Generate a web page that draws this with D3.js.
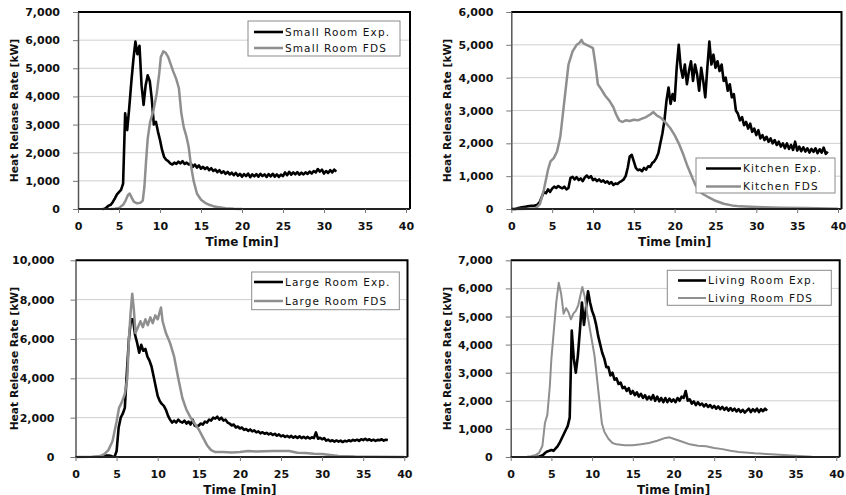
<!DOCTYPE html>
<html>
<head>
<meta charset="utf-8">
<script src="https://cdn.jsdelivr.net/npm/d3@7/dist/d3.min.js"></script>
<style>
  body { margin: 0; background: #fff; }
  svg { display: block; }
  text { font-family: "DejaVu Sans", Verdana, sans-serif; }
</style>
</head>
<body>
<svg id="chart" width="846" height="495"></svg>
<script>
// ---- Data: heat release rate [kW] vs time [min] ----
const timeTicks = [0, 5, 10, 15, 20, 25, 30, 35, 40];

// Experimental records are logged every 0.25 min (one row = one minute)
const EXP_STEP = 0.25;

const smallExpStart = 3.0;
const smallExp = [
  0, 10, 60, 120,            // 3
  150, 250, 380, 520,        // 4
  600, 680, 900, 3400,       // 5
  2800, 3600, 4500, 5300,    // 6
  5950, 5500, 5800, 4400,    // 7
  3700, 4400, 4750, 4550,    // 8
  3900, 3000, 3100, 2750,    // 9
  2450, 2100, 1850, 1750,    // 10
  1700, 1620, 1580, 1650,    // 11
  1600, 1680, 1620, 1700,    // 12
  1600, 1650, 1580, 1620,    // 13
  1500, 1580, 1470, 1550,    // 14
  1430, 1500, 1420, 1480,    // 15
  1380, 1450, 1350, 1400,    // 16
  1310, 1380, 1280, 1340,    // 17
  1250, 1320, 1230, 1290,    // 18
  1200, 1280, 1180, 1250,    // 19
  1150, 1240, 1170, 1260,    // 20
  1130, 1230, 1160, 1240,    // 21
  1150, 1250, 1170, 1230,    // 22
  1140, 1240, 1160, 1250,    // 23
  1150, 1230, 1140, 1220,    // 24
  1170, 1300, 1200, 1320,    // 25
  1220, 1300, 1230, 1310,    // 26
  1220, 1290, 1230, 1300,    // 27
  1250, 1330, 1260, 1350,    // 28
  1300, 1420, 1330, 1400,    // 29
  1260, 1350, 1280, 1380,    // 30
  1300, 1400, 1330           // 31
];
const smallFds = [
  [4.0, 0], [4.5, 10], [5.0, 40], [5.5, 150], [5.8, 300], [6.1, 500], [6.3, 550],
  [6.5, 430], [6.8, 260], [7.2, 200], [7.6, 220], [7.9, 300], [8.1, 800], [8.3, 1700],
  [8.5, 2500], [8.8, 3100], [9.2, 3500], [9.6, 4100], [9.9, 4800], [10.1, 5400],
  [10.4, 5600], [10.7, 5550], [11.0, 5400], [11.3, 5150], [11.6, 4900], [12.0, 4600],
  [12.3, 4300], [12.6, 3400], [12.9, 2900], [13.2, 2600], [13.5, 2200], [13.8, 1500],
  [14.1, 1000], [14.5, 550], [15.0, 330], [15.5, 220], [16.0, 150], [16.5, 100],
  [17.0, 70], [18.0, 30], [19.0, 10], [20.0, 0]
];

const kitchenExpStart = 0.0;
const kitchenExp = [
  0, 0, 0, 20,               // 0
  40, 50, 60, 70,            // 1
  80, 90, 100, 100,          // 2
  110, 140, 220, 380,        // 3
  520, 480, 600, 520,        // 4
  620, 680, 640, 700,        // 5
  660, 630, 680, 600,        // 6
  640, 950, 980, 900,        // 7
  970, 880, 930, 850,        // 8
  960, 1020, 950, 1000,      // 9
  880, 920, 850, 900,        // 10
  830, 870, 800, 840,        // 11
  770, 820, 730, 780,        // 12
  760, 820, 850, 900,        // 13
  1000, 1250, 1600, 1650,    // 14
  1450, 1250, 1180, 1200,    // 15
  1150, 1250, 1200, 1300,    // 16
  1280, 1400, 1450, 1550,    // 17
  1700, 2000, 2300, 2700,    // 18
  3300, 3700, 3200, 3500,    // 19
  3300, 4300, 5000, 4300,    // 20
  4000, 4400, 3800, 4200,    // 21
  4500, 3900, 4400, 4100,    // 22
  3600, 4300, 3900, 3400,    // 23
  4300, 5100, 4400, 4700,    // 24
  4300, 4500, 4200, 4400,    // 25
  3900, 4000, 3600, 3800,    // 26
  3400, 3500, 3000, 2900,    // 27
  2700, 2800, 2550, 2650,    // 28
  2450, 2600, 2350, 2450,    // 29
  2250, 2400, 2150, 2250,    // 30
  2100, 2200, 2050, 2150,    // 31
  2000, 2100, 1950, 2050,    // 32
  1900, 2000, 1850, 2000,    // 33
  1830, 1950, 1800, 2050,    // 34
  1780, 1900, 1760, 1880,    // 35
  1750, 1850, 1720, 1830,    // 36
  1740, 1850, 1700, 1820,    // 37
  1720, 1870, 1680, 1750     // 38
];
const kitchenFds = [
  [0, 0], [1, 0], [2, 5], [3, 20], [3.5, 150], [4, 600], [4.5, 1200], [4.8, 1450],
  [5.2, 1550], [5.6, 1750], [6, 2200], [6.5, 3300], [7, 4400], [7.5, 4800], [8, 5000],
  [8.3, 5050], [8.6, 5150], [8.8, 5050], [9.2, 5000], [9.6, 4950], [10, 4900],
  [10.3, 4400], [10.6, 3800], [11, 3650], [11.5, 3450], [12, 3300], [12.5, 3100],
  [12.8, 2900], [13.2, 2700], [13.6, 2650], [14, 2700], [14.5, 2680], [15, 2720],
  [15.5, 2700], [16, 2750], [16.5, 2800], [17, 2880], [17.4, 2950], [17.8, 2850],
  [18.3, 2780], [19, 2600], [19.5, 2450], [20, 2250], [20.5, 2000], [21, 1700],
  [21.5, 1350], [22, 1050], [22.5, 750], [23, 550], [23.5, 450], [24, 380], [25, 250],
  [26, 160], [27, 110], [28, 80], [30, 60], [33, 40], [36, 30], [40, 5]
];

const largeExpStart = 3.0;
const largeExp = [
  0, 30, 60, 70,             // 3
  80, 60, 30, 10,            // 4
  300, 1500, 2000, 2200,     // 5
  2500, 4300, 6000, 7000,    // 6
  7000, 6200, 5800, 5300,    // 7
  5700, 5400, 5500, 5100,    // 8
  4900, 4600, 4100, 3600,    // 9
  3100, 2850, 2700, 2600,    // 10
  2400, 2100, 1900, 1750,    // 11
  1850, 1750, 1900, 1800,    // 12
  1750, 1850, 1700, 1800,    // 13
  1650, 1900, 1600, 1550,    // 14
  1600, 1700, 1650, 1800,    // 15
  1750, 1900, 1850, 2000,    // 16
  1950, 2050, 1900, 2000,    // 17
  1850, 1900, 1750, 1700,    // 18
  1600, 1650, 1500, 1550,    // 19
  1450, 1500, 1380, 1420,    // 20
  1330, 1400, 1300, 1350,    // 21
  1250, 1300, 1200, 1260,    // 22
  1180, 1230, 1150, 1200,    // 23
  1120, 1180, 1080, 1150,    // 24
  1050, 1100, 1020, 1080,    // 25
  1000, 1070, 980, 1050,     // 26
  970, 1050, 960, 1030,      // 27
  950, 1020, 940, 1000,      // 28
  960, 1250, 930, 980,       // 29
  900, 960, 830, 880,        // 30
  800, 850, 780, 840,        // 31
  780, 830, 760, 820,        // 32
  790, 850, 800, 870,        // 33
  830, 880, 820, 900,        // 34
  860, 930, 850, 900,        // 35
  830, 880, 820, 870,        // 36
  850, 900, 830, 880,        // 37
  860                        // 38
];
const largeFds = [
  [0, 0], [2, 10], [3, 50], [3.5, 150], [4, 350], [4.5, 800], [5, 1800], [5.3, 2500],
  [5.6, 2750], [6, 3200], [6.3, 4000], [6.5, 6000], [6.7, 7300], [6.9, 8300], [7.1, 7500],
  [7.3, 6300], [7.6, 6600], [7.9, 6900], [8.2, 6600], [8.5, 7000], [8.8, 6700],
  [9.1, 7100], [9.4, 6800], [9.7, 7200], [10, 7000], [10.2, 7300], [10.4, 7600],
  [10.6, 6900], [11, 6300], [11.5, 5800], [12, 5100], [12.5, 4000], [13, 3000],
  [13.5, 2400], [14, 2000], [14.5, 1700], [15, 1400], [15.5, 1000], [16, 600],
  [16.5, 350], [17, 250], [18, 250], [19, 230], [20, 250], [21, 300], [22, 280],
  [24, 300], [26, 300], [27, 220], [28, 200], [29, 170], [30, 150], [31, 100],
  [32, 50], [34, 20], [36, 10], [40, 0]
];

const livingExpStart = 3.0;
const livingExp = [
  0, 10, 20, 40,             // 3
  80, 150, 200, 220,         // 4
  250, 220, 300, 380,        // 5
  500, 650, 800, 950,        // 6
  1100, 1400, 4500, 3500,    // 7
  3000, 3600, 4500, 5500,    // 8
  4700, 5300, 5900, 5500,    // 9
  5200, 5000, 4700, 4300,    // 10
  4000, 3700, 3500, 3200,    // 11
  3200, 2900, 3000, 2750,    // 12
  2800, 2600, 2650, 2450,    // 13
  2500, 2350, 2450, 2250,    // 14
  2350, 2200, 2300, 2150,    // 15
  2250, 2100, 2200, 2050,    // 16
  2150, 2050, 2200, 2000,    // 17
  2150, 1980, 2100, 1950,    // 18
  2100, 1950, 2080, 1970,    // 19
  2050, 1950, 2100, 2000,    // 20
  2150, 2100, 2350, 2000,    // 21
  2050, 1900, 1980, 1850,    // 22
  1950, 1850, 1900, 1800,    // 23
  1880, 1780, 1850, 1750,    // 24
  1820, 1720, 1800, 1700,    // 25
  1780, 1680, 1760, 1650,    // 26
  1740, 1650, 1720, 1620,    // 27
  1700, 1600, 1680, 1580,    // 28
  1650, 1720, 1600, 1700,    // 29
  1620, 1720, 1600, 1700,    // 30
  1630, 1720, 1650           // 31
];
const livingFds = [
  [0, 0], [2, 10], [2.5, 30], [3, 60], [3.5, 150], [3.9, 400], [4.2, 1200], [4.5, 1500],
  [4.8, 2500], [5, 3500], [5.3, 4500], [5.6, 5500], [5.9, 6200], [6.2, 5800], [6.5, 5100],
  [6.8, 5300], [7.1, 5150], [7.4, 4900], [7.7, 5100], [8, 5200], [8.3, 5400], [8.6, 5800],
  [8.8, 6050], [9.1, 5700], [9.4, 5100], [9.7, 4600], [10, 4100], [10.3, 3600],
  [10.6, 2800], [10.9, 2000], [11.2, 1200], [11.5, 900], [12, 650], [12.5, 500],
  [13, 450], [14, 420], [15, 420], [16, 450], [17, 500], [18, 580], [19, 680],
  [19.5, 700], [20, 650], [21, 550], [22, 450], [23, 400], [24, 380], [25, 320],
  [26, 280], [27, 220], [28, 180], [30, 130], [32, 100], [34, 60], [36, 30], [37, 10],
  [40, 0]
];

const seriesNames = {
  small:   ["Small Room Exp.", "Small Room FDS"],
  kitchen: ["Kitchen Exp.", "Kitchen FDS"],
  large:   ["Large Room Exp.", "Large Room FDS"],
  living:  ["Living Room Exp.", "Living Room FDS"]
};
const yTickSets = {
  small:   [0, 1000, 2000, 3000, 4000, 5000, 6000, 7000],
  kitchen: [0, 1000, 2000, 3000, 4000, 5000, 6000],
  large:   [0, 2000, 4000, 6000, 8000, 10000],
  living:  [0, 1000, 2000, 3000, 4000, 5000, 6000, 7000]
};

const xTitle = "Time [min]";
const yTitle = "Heat Release Rate [kW]";

// ---- Layout of the four panels ----
const expPoints = (start, vals) => vals.map((v, i) => [start + i * EXP_STEP, v]);

const panels = [
  { key: "small", exp: expPoints(smallExpStart, smallExp), fds: smallFds,
    plot: { left: 78, right: 406, top: 12, bottom: 209, frame: 410 }, labelPad: 13,
    titleX: 17.5, fdsWidth: 2.5,
    legend: { x: 248, y: 21, w: 152, h: 35, lineX0: 254, lineX1: 283, textX: 285, rows: [32, 48] } },
  { key: "kitchen", exp: expPoints(kitchenExpStart, kitchenExp), fds: kitchenFds,
    plot: { left: 511.3, right: 838, top: 12, bottom: 209, frame: 841.5 }, labelPad: 13,
    titleX: 450.5, fdsWidth: 2.5,
    legend: { x: 696, y: 158, w: 139, h: 35, lineX0: 706, lineX1: 741, textX: 743, rows: [168.5, 186.5] } },
  { key: "large", exp: expPoints(largeExpStart, largeExp), fds: largeFds,
    plot: { left: 75.5, right: 404.3, top: 260.3, bottom: 457, frame: 407.5 }, labelPad: 16,
    titleX: 17.5, fdsWidth: 2.5,
    legend: { x: 251.7, y: 272, w: 147.6, h: 37.7, lineX0: 254, lineX1: 283, textX: 285, rows: [282, 301] } },
  { key: "living", exp: expPoints(livingExpStart, livingExp), fds: livingFds,
    plot: { left: 510.7, right: 836.3, top: 260.3, bottom: 457, frame: 839.7 }, labelPad: 13,
    titleX: 450.5, fdsWidth: 2,
    legend: { x: 667.3, y: 270.3, w: 164, h: 35, lineX0: 678, lineX1: 706, textX: 708, rows: [280.5, 298] } }
];

const svg = d3.select("#chart");
const fmt = d3.format(",");

panels.forEach(p => {
  const P = p.plot;
  const yTicks = yTickSets[p.key];
  const x = d3.scaleLinear().domain([0, 40]).range([P.left, P.right]);
  const y = d3.scaleLinear().domain([0, d3.max(yTicks)]).range([P.bottom, P.top]);
  const g = svg.append("g");

  // horizontal gridlines
  g.selectAll("line.grid").data(yTicks.filter(d => d > 0)).join("line")
    .attr("x1", P.left).attr("x2", P.frame)
    .attr("y1", d => y(d)).attr("y2", d => y(d))
    .attr("stroke", "#cfcfcf").attr("stroke-width", 1);

  // series: measured (black) below, FDS prediction (grey) on top
  const line = d3.line().x(d => x(d[0])).y(d => y(d[1]));
  g.append("path").datum(p.exp).attr("d", line)
    .attr("fill", "none").attr("stroke", "#000").attr("stroke-width", 2.6)
    .attr("stroke-linejoin", "round");
  g.append("path").datum(p.fds).attr("d", line)
    .attr("fill", "none").attr("stroke", "#8f8f8f").attr("stroke-width", p.fdsWidth)
    .attr("stroke-linejoin", "round");

  // plot frame: top and right edges
  g.append("path")
    .attr("d", `M${P.left},${P.top}H${P.frame}V${P.bottom}`)
    .attr("fill", "none").attr("stroke", "#000").attr("stroke-width", 2);

  // y axis
  const ya = g.append("g").attr("transform", `translate(${P.left},0)`)
    .call(d3.axisLeft(y).tickValues(yTicks).tickFormat(fmt)
      .tickSize(5).tickSizeOuter(0).tickPadding(p.labelPad));
  ya.select(".domain").attr("stroke", "#555").attr("stroke-width", 1.5);
  ya.selectAll(".tick line").attr("stroke", "#777");
  ya.selectAll("text").attr("font-size", 11).attr("font-weight", "bold")
    .attr("fill", "#111").style("font-family", "'DejaVu Sans', Verdana, sans-serif");

  // x axis
  const xa = g.append("g").attr("transform", `translate(0,${P.bottom})`)
    .call(d3.axisBottom(x).tickValues(timeTicks).tickFormat(d3.format("d"))
      .tickSize(4).tickSizeOuter(0).tickPadding(9));
  xa.select(".domain").attr("stroke", "#222").attr("stroke-width", 2)
    .attr("d", `M${P.left},0H${P.frame}`);
  xa.selectAll(".tick line").attr("stroke", "#777");
  xa.selectAll("text").attr("font-size", 11).attr("font-weight", "bold")
    .attr("fill", "#111").style("font-family", "'DejaVu Sans', Verdana, sans-serif");

  // axis titles
  g.append("text")
    .attr("x", (P.left + P.right) / 2).attr("y", P.bottom + 36.5)
    .attr("text-anchor", "middle").attr("font-size", 12).attr("font-weight", "bold")
    .attr("fill", "#111").text(xTitle);
  g.append("text")
    .attr("transform", `translate(${p.titleX},${(P.top + P.bottom) / 2}) rotate(-90)`)
    .attr("text-anchor", "middle").attr("font-size", 10.7).attr("font-weight", "bold")
    .attr("fill", "#111").text(yTitle);

  // legend
  const L = p.legend;
  const lg = g.append("g");
  lg.append("rect").attr("x", L.x).attr("y", L.y).attr("width", L.w).attr("height", L.h)
    .attr("fill", "#fff").attr("stroke", "#8a8a8a").attr("stroke-width", 1);
  const names = seriesNames[p.key];
  const colors = ["#000", "#8f8f8f"];
  const widths = [2.6, p.fdsWidth];
  names.forEach((name, i) => {
    lg.append("line").attr("x1", L.lineX0).attr("x2", L.lineX1)
      .attr("y1", L.rows[i]).attr("y2", L.rows[i])
      .attr("stroke", colors[i]).attr("stroke-width", widths[i]);
    lg.append("text").attr("x", L.textX).attr("y", L.rows[i]).attr("dy", "0.35em")
      .attr("font-size", 10.5).attr("letter-spacing", 1.1).attr("fill", "#111")
      .text(name);
  });
});
</script>
</body>
</html>
